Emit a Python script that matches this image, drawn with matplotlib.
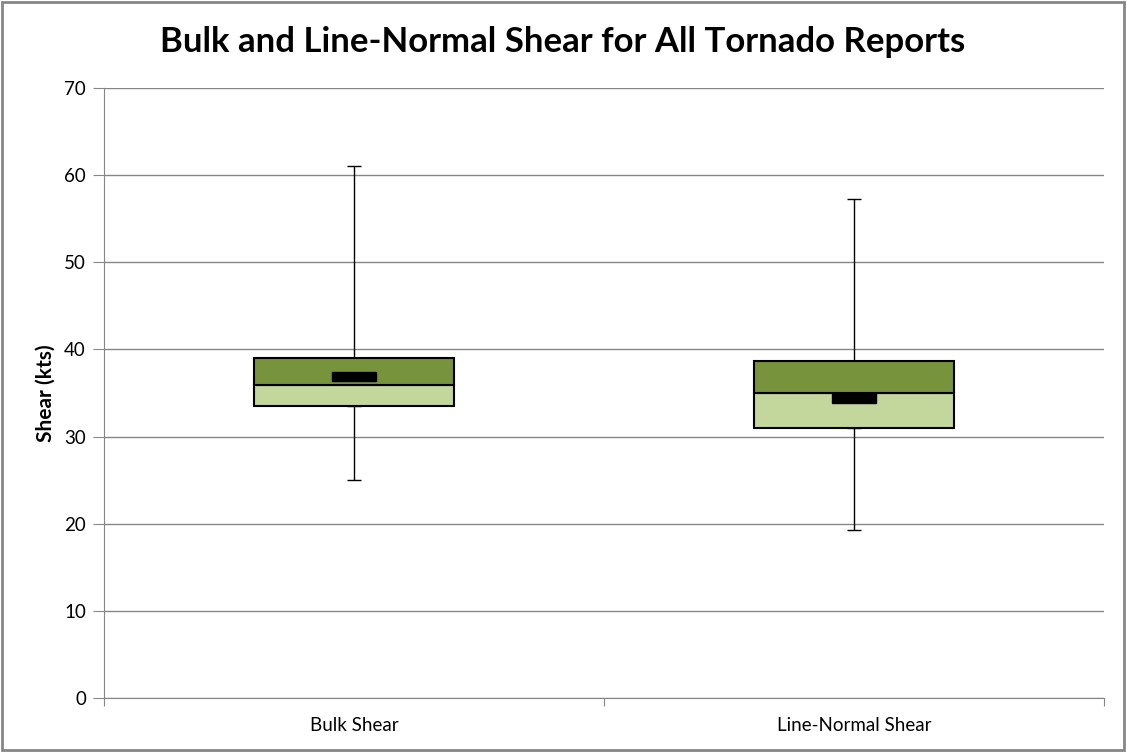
import matplotlib
matplotlib.use("Agg")
import matplotlib.pyplot as plt
from matplotlib.patches import Rectangle
import numpy as np

categories = ["Bulk Shear", "Line-Normal Shear"]
whisker_low = [25.0, 19.3]
q1 = [33.5, 31.0]
median = [35.9, 35.0]
q3 = [39.0, 38.7]
whisker_high = [61.0, 57.3]
mean = [36.9, 34.4]

light_green = "#C3D69B"
dark_green = "#77933C"
grid_col = "#868686"

plt.rcParams['font.family'] = ['Lato', 'DejaVu Sans']

fig = plt.figure(figsize=(11.27, 7.52), dpi=100)
ax = fig.add_axes([104/1127, 1-698/752, 1000/1127, 610/752])

x = np.arange(len(categories))
w = 0.4
ax.bar(x, np.array(median) - np.array(q1), bottom=q1, width=w, color=light_green,
       edgecolor="black", linewidth=1.5, zorder=3)
ax.bar(x, np.array(q3) - np.array(median), bottom=median, width=w, color=dark_green,
       edgecolor="black", linewidth=1.5, zorder=3)
# whiskers
for i in range(len(categories)):
    ax.errorbar([x[i]], [q3[i]], yerr=[[0], [whisker_high[i] - q3[i]]], color="black",
                capsize=5, elinewidth=1, capthick=1, zorder=2)
    ax.errorbar([x[i]], [q1[i]], yerr=[[q1[i] - whisker_low[i]], [0]], color="black",
                capsize=5, elinewidth=1, capthick=1, zorder=2)
for i in range(len(categories)):
    ax.add_patch(Rectangle((x[i] - 0.044, mean[i] - 0.55), 0.088, 1.1, color="black", zorder=5))

ax.set_xlim(-0.5, 1.5)
ax.set_ylim(0, 70)
ax.set_yticks(np.arange(0, 71, 10))
ax.yaxis.grid(True, color=grid_col, linewidth=1)
ax.set_axisbelow(True)
for s in ["top", "right"]:
    ax.spines[s].set_visible(False)
ax.spines["left"].set_color(grid_col)
ax.spines["bottom"].set_color(grid_col)
ax.tick_params(axis="y", length=8, color=grid_col, labelsize=13.5, pad=5)
ax.set_xticks([-0.5, 0.5, 1.5])
ax.set_xticklabels([])
ax.set_xticks(x, minor=True)
ax.set_xticklabels(categories, minor=True)
ax.tick_params(axis="x", which="major", length=6, color=grid_col, direction="out")
ax.tick_params(axis="x", which="minor", length=0, labelsize=13.5, pad=14)
ax.set_ylabel("Shear (kts)", fontsize=15, fontweight="bold", labelpad=6)

fig.text(563/1127, 1-42/752, "Bulk and Line-Normal Shear for All Tornado Reports",
         ha="center", va="center", fontsize=25, fontweight="bold")

fig.patches.append(Rectangle((0.002, 0.003), 0.995, 0.994, transform=fig.transFigure,
                             fill=False, edgecolor="#868686", linewidth=2))

fig.savefig("out.png", dpi=100)
